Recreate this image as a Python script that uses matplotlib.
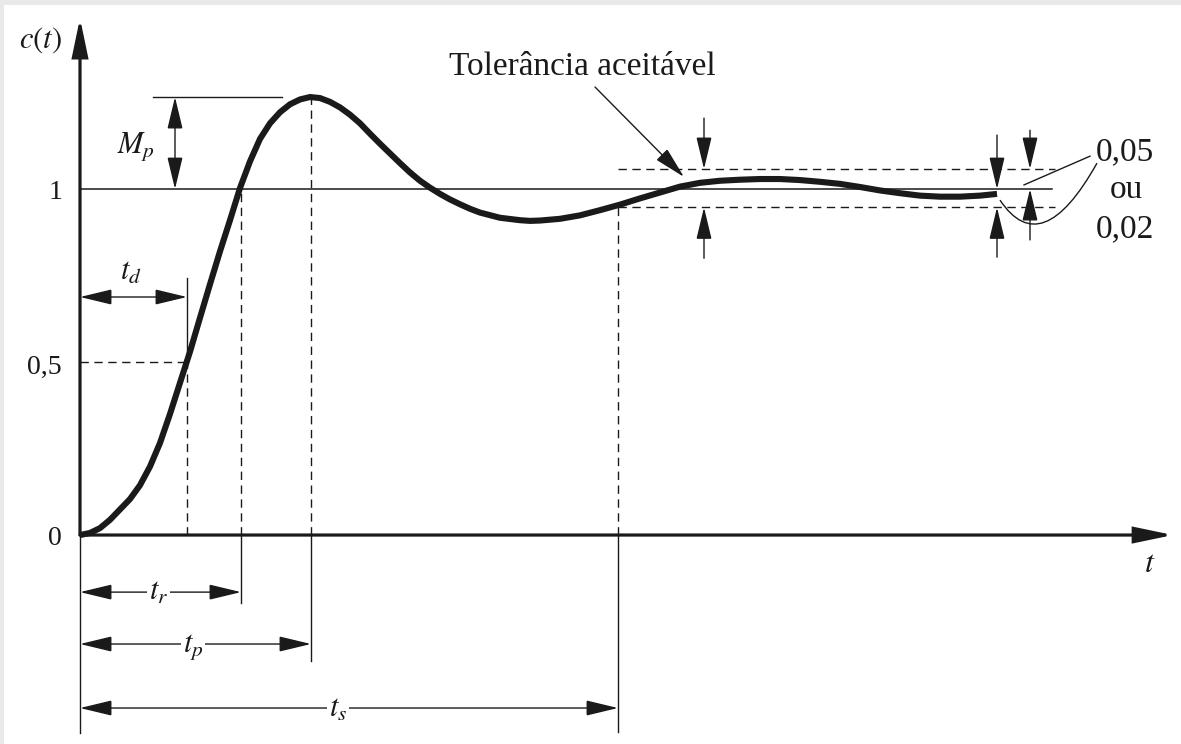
import numpy as np
import matplotlib.pyplot as plt
from matplotlib.patches import FancyArrowPatch, PathPatch
from matplotlib.path import Path

plt.rcParams['font.family'] = ['Liberation Serif', 'DejaVu Serif']
plt.rcParams['mathtext.fontset'] = 'stix'

# step response c(t) (t in arbitrary units)
t = [0.0, 0.1, 0.2, 0.3, 0.4, 0.5, 0.6, 0.7, 0.8, 0.9, 1.0, 1.1, 1.2, 1.3, 1.4,
     1.5, 1.6, 1.7, 1.8, 1.9, 2.0, 2.1, 2.2, 2.3, 2.4, 2.5, 2.6, 2.7, 2.8, 2.9,
     3.0, 3.1, 3.2, 3.3, 3.4, 3.5, 3.6, 3.7, 3.8, 3.9, 4.0, 4.2, 4.4, 4.5, 4.6,
     4.8, 5.0, 5.2, 5.4, 5.6, 5.8, 6.0, 6.2, 6.4, 6.6, 6.8, 7.0, 7.2, 7.4, 7.6,
     7.8, 8.0, 8.2, 8.4, 8.6, 8.8, 9.0, 9.17]
c = [0.000, 0.006, 0.020, 0.044, 0.074, 0.104, 0.144, 0.198, 0.266, 0.350,
     0.440, 0.530, 0.628, 0.725, 0.820, 0.910, 1.003, 1.080, 1.145, 1.190,
     1.222, 1.245, 1.259, 1.266, 1.263, 1.252, 1.236, 1.215, 1.190, 1.160,
     1.131, 1.103, 1.075, 1.048, 1.024, 1.004, 0.986, 0.970, 0.956, 0.943,
     0.932, 0.917, 0.910, 0.908, 0.909, 0.914, 0.924, 0.939, 0.955, 0.973,
     0.990, 1.007, 1.018, 1.024, 1.027, 1.029, 1.029, 1.026, 1.021, 1.015,
     1.006, 0.996, 0.988, 0.981, 0.978, 0.978, 0.981, 0.986]

t_d, t_r, t_p, t_s = 1.07, 1.61, 2.31, 5.38
c_peak = 1.266
tol_hi, tol_lo = 1.058, 0.947

tick_vals = [0, 0.5, 1]
tick_labels = ['0', '0,5', '1']

INK = '#1a1a1a'

fig = plt.figure(figsize=(11.81, 7.44), dpi=100)
fig.patch.set_facecolor('#e9e9e9')
ax = fig.add_axes([4 / 1181, 0, 1177 / 1181, 739 / 744])
ax.set_facecolor('white')
ax.set_xlim(-0.76, 11.01)
ax.set_ylim(-0.604, 1.532)
ax.set_xticks([])
ax.set_yticks([])
for s in ax.spines.values():
    s.set_visible(False)


def arrow(p0, p1, style='-|>', lw=1.0, hl=1.0, hw=0.24, ms=20):
    ax.add_patch(FancyArrowPatch(p0, p1, arrowstyle=f'{style},head_length={hl},head_width={hw}',
                                 mutation_scale=ms, lw=lw, color=INK, shrinkA=0, shrinkB=0,
                                 joinstyle='miter'))


thin = dict(color=INK, lw=1.0)
dash = dict(color=INK, lw=1.0, dashes=(6, 4))

# axes
arrow((0, 0), (10.93, 0), lw=2.3, hl=1.15, hw=0.24)
arrow((0, 0), (0, 1.494), lw=2.3, hl=1.15, hw=0.24)
ax.plot([0, 0], [-0.572, 0], **thin)
ax.text(10.70, -0.107, '$t$', fontsize=23, ha='center', va='baseline', color=INK)
ax.text(-0.18, 1.410, '$c(t)$', fontsize=22, ha='right', va='baseline', color=INK)

tick_base = {0: -0.029, 0.5: 0.465, 1: 0.971}
for v, lab in zip(tick_vals, tick_labels):
    ax.text(-0.18, tick_base[v], lab, fontsize=20, ha='right', va='baseline', color=INK)

# reference levels
ax.plot([0, 9.72], [1, 1], color=INK, lw=1.1)
ax.plot([0.73, 2.02], [c_peak, c_peak], **thin)
ax.plot([t_s, 9.75], [tol_hi, tol_hi], **dash)
ax.plot([t_s, 9.75], [tol_lo, tol_lo], **dash)
ax.plot([0, t_d], [0.5, 0.5], **dash)

# time markers
ax.plot([t_d, t_d], [0.5, 0.743], **thin)
ax.plot([t_d, t_d], [0, 0.5], **dash)
ax.plot([t_r, t_r], [0, 1], **dash)
ax.plot([t_r, t_r], [-0.197, 0], **thin)
ax.plot([t_p, t_p], [0, c_peak], **dash)
ax.plot([t_p, t_p], [-0.364, 0], **thin)
ax.plot([t_s, t_s], [0, tol_lo], **dash)
ax.plot([t_s, t_s], [-0.569, 0], **thin)

# response curve
ax.plot(t, c, color=INK, lw=4.4, solid_capstyle='butt', solid_joinstyle='round', zorder=5)

# dimension arrows
box = dict(facecolor='white', edgecolor='none', pad=1)
arrow((0, 0.688), (t_d, 0.688), style='<|-|>')
ax.text(0.40, 0.737, '$t_d$', fontsize=22, ha='left', va='baseline', color=INK)
arrow((0, -0.165), (t_r, -0.165), style='<|-|>')
ax.text(0.69, -0.188, '$t_r$', fontsize=22, ha='left', va='baseline', color=INK, bbox=box)
arrow((0, -0.315), (t_p, -0.315), style='<|-|>')
ax.text(1.03, -0.338, '$t_p$', fontsize=22, ha='left', va='baseline', color=INK, bbox=box)
arrow((0, -0.50), (t_s, -0.50), style='<|-|>')
ax.text(2.49, -0.526, '$t_s$', fontsize=22, ha='left', va='baseline', color=INK, bbox=box)
arrow((0.95, 1), (0.95, c_peak), style='<|-|>')
ax.text(0.37, 1.104, '$M_p$', fontsize=22, ha='left', va='baseline', color=INK)

# tolerance band marks
arrow((6.24, 1.205), (6.24, tol_hi))
arrow((6.24, 0.800), (6.24, tol_lo))
arrow((9.17, 1.156), (9.17, 1.0))
arrow((9.17, 0.803), (9.17, tol_lo))
arrow((9.50, 1.170), (9.50, tol_hi))
arrow((9.50, 0.853), (9.50, 1.0))

ax.text(5.02, 1.329, 'Tolerância aceitável', fontsize=24, ha='center', va='baseline', color=INK)
arrow((5.15, 1.295), (6.04, 1.035))

ax.plot([9.44, 10.10], [1.012, 1.095], **thin)
leader = Path([(9.20, 0.968), (9.615, 0.788), (10.17, 1.075)],
              [Path.MOVETO, Path.CURVE3, Path.CURVE3])
ax.add_patch(PathPatch(leader, facecolor='none', edgecolor=INK, lw=1.0))
ax.text(10.45, 1.084, '0,05', fontsize=24, ha='center', va='baseline', color=INK)
ax.text(10.46, 0.974, 'ou', fontsize=24, ha='center', va='baseline', color=INK)
ax.text(10.45, 0.861, '0,02', fontsize=24, ha='center', va='baseline', color=INK)

fig.savefig('out.png', dpi=100, facecolor=fig.get_facecolor())
